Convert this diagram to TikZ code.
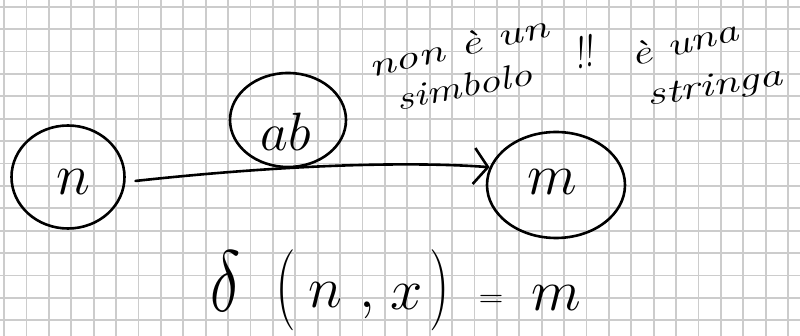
\RequirePackage{fix-cm}
\documentclass[tikz,border=0pt]{standalone}
\usetikzlibrary{shapes.geometric,arrows.meta}
\begin{document}
\begin{tikzpicture}[x=1pt,y=-1pt,
  ink/.style={line width=2.6pt, draw=black, line cap=round, line join=round},
  stat/.style={ellipse, ink, inner sep=0pt},
  big/.style={font=\fontsize{58}{58}\selectfont, inner sep=0pt},
  note/.style={font=\fontsize{30}{30}\selectfont\itshape, inner sep=0pt},
  gridline/.style={draw=gray!40, line width=1.8pt}]
\useasboundingbox (0,0) rectangle (800,336);
\fill[white] (0,0) rectangle (800,336);
\foreach \i in {0,...,35} \draw[gridline] ({4+22.4*\i},0) -- ({4+22.4*\i},336);
\foreach \j in {0,...,14} \draw[gridline] (0,{6.7+22.4*\j}) -- (800,{6.7+22.4*\j});
% states
\node[stat, minimum width=113pt, minimum height=103pt] (qn) at (68,177) {};
\node[stat, minimum width=116pt, minimum height=94pt] (qab) at (288,120) {};
\node[stat, minimum width=138pt, minimum height=106pt] (qm) at (556,185) {};
\node[big] (ln) at (73,182) {$n$};
\node[big, font=\fontsize{54}{54}\selectfont] (lab) at (286,132) {$ab$};
\node[big] (lm) at (552,182) {$m$};
% transition
\draw[ink, shorten <=10pt, -{Straight Barb[length=14pt,width=36pt,line width=2.6pt]}]
  (qn.-5) .. controls (300,163) and (420,162) .. (qm.165);
% note
\node[note, rotate=13] (t1) at (458,46) {\scalebox{1.6}[1.1]{non è un}};
\node[note, rotate=11] (t2) at (464,86) {\scalebox{1.45}[1.1]{simbolo}};
\node[note, rotate=8] (t3) at (583,52) {\scalebox{1}[1.5]{!!}};
\node[note, rotate=14] (t4) at (684,42) {\scalebox{1.55}[1.1]{è una}};
\node[note, rotate=9] (t5) at (715,88) {\scalebox{1.55}[1.1]{stringa}};
% formula
\node[big] (f1) at (226,281) {\scalebox{1.1}[1.5]{$\delta$}};
\node[big] (f2) at (286,290) {\scalebox{1}[1.4]{$($}};
\node[big] (f3) at (325,295) {$n$};
\node[big] (f4) at (367,310) {$,$};
\node[big] (f5) at (407,297) {$x$};
\node[big] (f6) at (440,290) {\scalebox{1}[1.4]{$)$}};
\node[font=\fontsize{34}{34}\selectfont, inner sep=0pt] (f7) at (491,301) {$=$};
\node[big] (f8) at (556,298) {$m$};
\end{tikzpicture}
\end{document}
